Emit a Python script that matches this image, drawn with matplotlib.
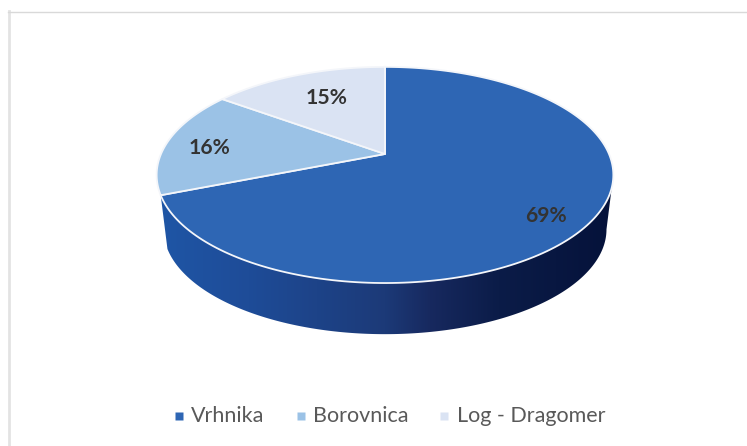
import numpy as np
import matplotlib
matplotlib.use('Agg')
import matplotlib.pyplot as plt
from matplotlib.colors import LinearSegmentedColormap
from matplotlib.patches import PathPatch
from matplotlib.path import Path

labels = ['Vrhnika', 'Borovnica', 'Log - Dragomer']
shares = [69, 16, 15]
colors = ['#2e66b4', '#9bc2e6', '#dae3f3']
text_pos = [(546, 215.5), (210, 147.5), (327, 97.5)]

plt.rcParams['font.family'] = ['Lato', 'DejaVu Sans']

W, H = 747, 446
fig = plt.figure(figsize=(W/100, H/100), dpi=100)
ax = fig.add_axes([0, 0, 1, 1])
ax.set_xlim(0, W)
ax.set_ylim(H, 0)
ax.axis('off')

# pie is seen in perspective, so the apex sits above the ellipse centre
cx, cy = 385, 154
a, b, k = 224, 104, 0.194
scale_low, drop = 0.97, 55

def project(theta, r=1.0, low=False):
    # theta runs clockwise from 12 o'clock
    ux = r*np.sin(theta)
    uy = r*np.cos(theta)
    d = 1 + k*uy
    x = a*ux/d
    y = b*uy/d
    if low:
        return cx + scale_low*x, cy - scale_low*y + drop
    return cx + x, cy - y

# frame
ax.plot([9.3, 9.3], [11, 446], color='#e3e3e3', lw=2)
ax.plot([8, 747], [11.6, 11.6], color='#d9d9d9', lw=1)

# side of the cake: gradient clipped to the front wall
t_edge = np.radians(shares[0]/sum(shares)*360)
t_side = np.linspace(np.arccos(-k), t_edge, 200)
xt, yt = project(t_side)
xb, yb = project(t_side, low=True)
verts = np.vstack([np.column_stack([xt, yt]), np.column_stack([xb, yb])[::-1], [[xt[0], yt[0]]]])
codes = [Path.MOVETO] + [Path.LINETO]*(len(verts)-2) + [Path.CLOSEPOLY]
side_cmap = LinearSegmentedColormap.from_list('side', [(0, '#1f56a6'), (0.2, '#1e4c98'), (0.5, '#1c3a78'),
                                                       (0.6, '#17295f'), (0.75, '#0b1c48'), (1, '#05123a')])
grad = np.linspace(0, 1, 256).reshape(1, -1)
im = ax.imshow(grad, cmap=side_cmap, extent=[157, 613, H, 0], aspect='auto', zorder=1)
im.set_clip_path(PathPatch(Path(verts, codes), transform=ax.transData))
ax.set_xlim(0, W)
ax.set_ylim(H, 0)

# top slices
start = 0
for share, color in zip(shares, colors):
    end = start + share/sum(shares)*2*np.pi
    t = np.linspace(start, end, 200)
    x, y = project(t)
    ax.fill(np.r_[cx, x], np.r_[cy, y], facecolor=color, edgecolor='#f4f6fa', lw=1.3, joinstyle='round', zorder=2)
    start = end

for lab, pos in zip(shares, text_pos):
    ax.text(pos[0], pos[1], f'{lab}%', fontsize=15.2, fontweight='bold', color='#333333', ha='center', va='center', zorder=3)

# legend
swatch_x = [179, 301, 444]
legend_x = [191, 313, 457]
for sx, lx, lab, color in zip(swatch_x, legend_x, labels, colors):
    ax.plot(sx, 416, 's', ms=5.8, mec='none', color=color)
    ax.text(lx, 416, lab, fontsize=15.5, color='#595959', ha='left', va='center')

fig.savefig('out.png', dpi=100)
